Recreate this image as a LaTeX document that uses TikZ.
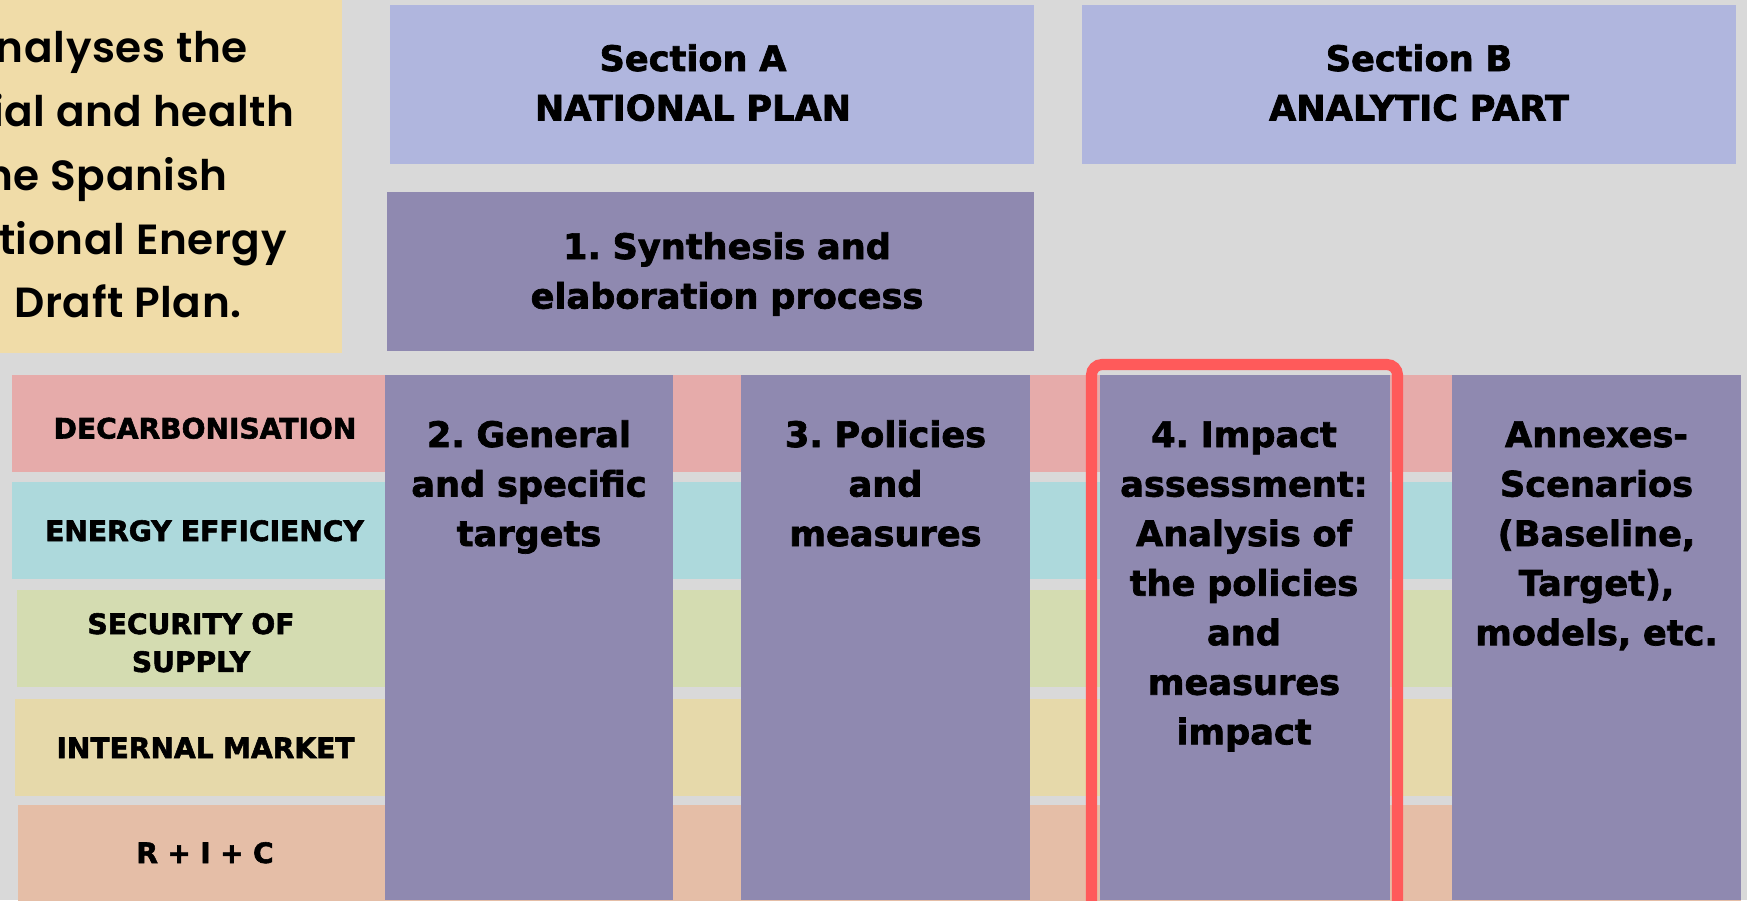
\documentclass[tikz,border=0pt]{standalone}
\usepackage{fontspec}
\setmainfont{DejaVu Sans}[BoldFeatures={FakeBold=2}]
\newfontfamily\introfont{Poppins SemiBold}[LetterSpace=1.5]
\frenchspacing

\definecolor{canvas}{HTML}{D9D9D9}
\definecolor{introyellow}{HTML}{F0DCA8}
\definecolor{secblue}{HTML}{B0B6DE}
\definecolor{chapter}{HTML}{8F89B0}
\definecolor{rowpink}{HTML}{E6ABAA}
\definecolor{rowcyan}{HTML}{ADD9DC}
\definecolor{rowgreen}{HTML}{D4DCB1}
\definecolor{rowsand}{HTML}{E6D9AA}
\definecolor{rowpeach}{HTML}{E5BEA7}
\definecolor{frame}{HTML}{FF5A5A}

\tikzset{
  introtext/.style={font=\introfont\fontsize{24}{36}\selectfont, anchor=base east, inner sep=0pt},
  headtext/.style={font=\bfseries\fontsize{20}{28.2}\selectfont, align=center, text width=9cm, anchor=base, inner sep=0pt},
  coltext/.style={font=\bfseries\fontsize{20}{28.2}\selectfont, align=center, text width=5.6cm, anchor=base, inner sep=0pt},
  rowlabel/.style={font=\bfseries\fontsize{16}{21.6}\selectfont, align=center, text width=7cm, anchor=base, inner sep=0pt},
}

\begin{document}
\begin{tikzpicture}[x=0.02cm,y=-0.02cm]
\clip (0,0) rectangle (1747,900);
\fill[canvas] (0,0) rectangle (1747,900);

% intro note, cut at the left edge
\fill[introyellow] (-10,-10) rectangle (342,353);
\foreach \n/\x/\y/\t in {1/248/62/nalyses the,2/295/126/ial and health,3/228/190/he Spanish,4/287/254/tional Energy,5/242/317/Draft Plan.}
  \node[introtext] (intro\n) at (\x,\y) {\t};

% section headers
\fill[secblue] (390,4.5) rectangle (1034,164);
\node[headtext] (secA) at (693,71) {Section A\\NATIONAL PLAN};
\fill[secblue] (1082,4.5) rectangle (1736,164);
\node[headtext] (secB) at (1419,71) {Section B\\ANALYTIC PART};

\fill[chapter] (387,192) rectangle (1034,351);
\node[headtext] (ch1) at (727,259) {1. Synthesis and\\elaboration process};

% dimension rows
\foreach \x/\top/\col in {12/375/rowpink,12/482/rowcyan,17/590/rowgreen,15/699/rowsand,18/805/rowpeach}
  \fill[\col] (\x,\top) rectangle (1741,\top+97);
\node[rowlabel] (decarb) at (205,438.5) {DECARBONISATION};
\node[rowlabel] (effic) at (204.5,541) {ENERGY EFFICIENCY};
\node[rowlabel] (supply) at (191,634) {SECURITY OF\\SUPPLY};
\node[rowlabel] (market) at (205.5,758) {INTERNAL MARKET};
\node[rowlabel] (ric) at (205,863) {R + I + C};

% chapter columns
\fill[chapter] (385,375) rectangle (673,900);
\fill[chapter] (741,375) rectangle (1030,900);
\fill[chapter] (1100,375) rectangle (1390,900);
\fill[chapter] (1452,375) rectangle (1741,900);
\node[coltext] (ch2) at (529,447) {2. General\\and specific\\targets};
\node[coltext] (ch3) at (885.5,447) {3. Policies\\and\\measures};
\node[coltext] (ch4) at (1244,447) {4. Impact\\assessment:\\Analysis of\\the policies\\and\\measures\\impact};
\node[coltext] (annex) at (1596.5,447) {Annexes-\\Scenarios\\(Baseline,\\Target),\\models, etc.};

% highlight round chapter 4
\draw[frame, line width=6.3pt, rounded corners=6pt] (1091.5,950) -- (1091.5,364.5) -- (1397.5,364.5) -- (1397.5,950);
\end{tikzpicture}
\end{document}
